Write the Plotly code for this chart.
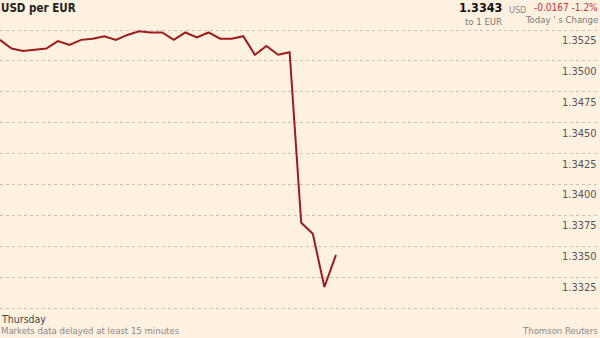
import plotly.graph_objects as go

# Data
minutes_idx = list(range(30))
usd_per_eur = [1.3517, 1.3510, 1.3508, 1.3509, 1.3510, 1.3516, 1.3513, 1.3517, 1.3518, 1.3520,
               1.3517, 1.3521, 1.3524, 1.3523, 1.3523, 1.3517, 1.3523, 1.3519, 1.3523, 1.3518,
               1.3518, 1.3520, 1.3505, 1.3512, 1.3505, 1.3507, 1.3369, 1.3360, 1.3317, 1.3343]
tick_vals = [1.3525, 1.3500, 1.3475, 1.3450, 1.3425, 1.3400, 1.3375, 1.3350, 1.3325]
tick_labels = ["1.3525", "1.3500", "1.3475", "1.3450", "1.3425", "1.3400", "1.3375", "1.3350", "1.3325"]
grid_vals = tick_vals + [1.3300]

BG = "#FFF1E0"
FONT = "DejaVu Sans Condensed, Liberation Sans Narrow, Arial Narrow, sans-serif"

W, H = 600, 338
T, B = 28, 28
PLOT_H = H - T - B
PX = 0.0025 / 30.9  # value per pixel

fig = go.Figure()
fig.add_trace(go.Scatter(x=minutes_idx, y=usd_per_eur, mode="lines",
                         line=dict(color="#9d1a1d", width=2), hoverinfo="skip"))

fig.update_layout(
    width=W, height=H,
    margin=dict(l=0, r=0, t=T, b=B),
    paper_bgcolor=BG, plot_bgcolor=BG,
    showlegend=False,
    font=dict(family=FONT, color="#555"),
    xaxis=dict(range=[0, 51.79], visible=False, fixedrange=True),
    yaxis=dict(range=[1.3300 - 2 * PX, 1.3525 + 2 * PX], tickvals=grid_vals, showticklabels=False,
               showgrid=True, gridcolor="#c9c0b4", griddash="dot", gridwidth=1,
               zeroline=False, showline=False, fixedrange=True),
)

annotations = []
for v, lab in zip(tick_vals, tick_labels):
    annotations.append(dict(x=1.0, xref="paper", y=v, yref="y", text=lab, showarrow=False,
                            xanchor="right", yanchor="top", yshift=-2, xshift=-1,
                            font=dict(size=11, color="#555", family=FONT)))


def pt(px, py, text, anchor="left", size=11, color="#555"):
    return dict(x=px / W, y=(H - B - py) / PLOT_H, xref="paper", yref="paper",
                xanchor=anchor, yanchor="middle", showarrow=False, text=text,
                font=dict(size=size, color=color, family=FONT),
                borderpad=0)


annotations += [
    pt(0, 8, "<b>USD per EUR</b>", size=11.5, color="#222"),
    pt(503, 7.5, "<b>1.3343</b>", anchor="right", size=12.5, color="#111"),
    pt(503, 21.5, "to 1 EUR", anchor="right", size=9.5, color="#777"),
    pt(508, 9.5, "USD", size=9, color="#888"),
    pt(599, 7.5, "-0.0167 -1.2%", anchor="right", size=10, color="#cc3333"),
    pt(599, 19.5, "Today ' s Change", anchor="right", size=9.5, color="#777"),
    pt(0, 319, "Thursday", size=10.5, color="#444"),
    pt(0, 330, "Markets data delayed at least 15 minutes", size=9.5, color="#888"),
    pt(599, 330, "Thomson Reuters", anchor="right", size=9.5, color="#888"),
]
fig.update_layout(annotations=annotations)

fig.write_html("out.html")
